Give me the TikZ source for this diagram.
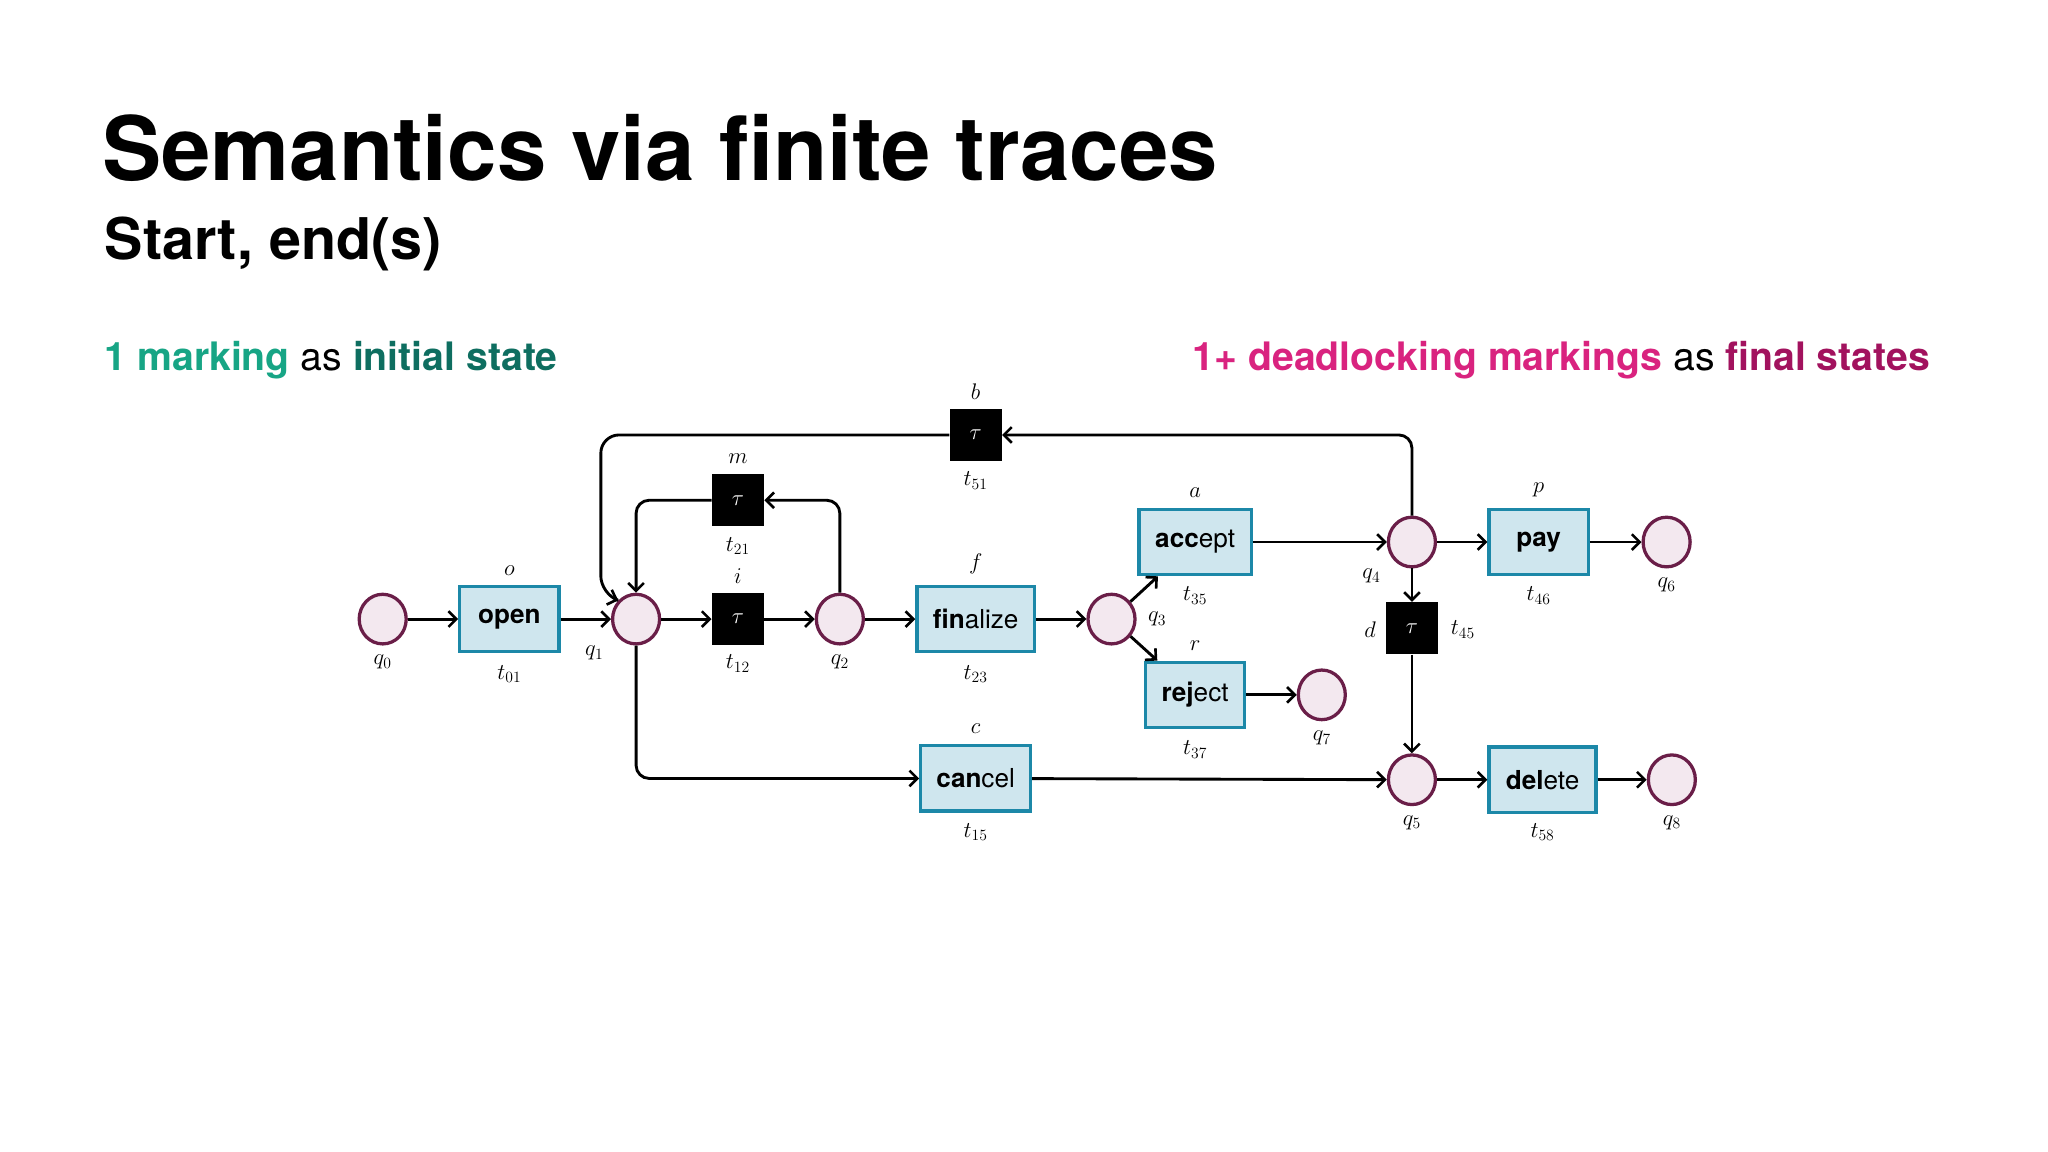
\documentclass[tikz,border=0pt]{standalone}
\usepackage{fontspec}
\setsansfont{TeX Gyre Heros}
\usetikzlibrary{arrows.meta,shapes.geometric}
\definecolor{boxfill}{HTML}{CFE6EE}
\definecolor{boxline}{HTML}{1C88A8}
\definecolor{plfill}{HTML}{F3E8EF}
\definecolor{plline}{HTML}{6A1E48}
\definecolor{tealA}{HTML}{17A585}
\definecolor{tealB}{HTML}{0E6E60}
\definecolor{magA}{HTML}{D9237F}
\definecolor{magB}{HTML}{A2125E}
\tikzset{
 x=1pt,y=-1pt,
 place/.style={ellipse,draw=plline,fill=plfill,line width=2.5pt,minimum width=36pt,minimum height=38pt,inner sep=0pt},
 trans/.style={draw=boxline,fill=boxfill,line width=2.5pt,minimum height=50pt,inner sep=0pt,font=\sffamily\fontsize{20}{22}\selectfont},
 tau/.style={fill=black,text=white,minimum size=40pt,inner sep=0pt,font=\fontsize{18}{20}\selectfont},
 lab/.style={font=\fontsize{18}{20}\selectfont,inner sep=2pt},
 arc/.style={line width=2.2pt,-{Straight Barb[length=6pt,width=12pt,line width=2pt]},rounded corners=10pt},
}
\begin{document}
\begin{tikzpicture}
\useasboundingbox (0,0) rectangle (1568,882);
\fill[white] (0,0) rectangle (1568,882);
\node[anchor=base west,inner sep=0,font=\sffamily\bfseries\fontsize{68}{70}\selectfont] (title) at (78,138) {Semantics via finite traces};
\node[anchor=base west,inner sep=0,font=\sffamily\bfseries\fontsize{44}{46}\selectfont] (sub) at (80,199) {Start, end(s)};
\node[anchor=base west,inner sep=0,font=\sffamily\fontsize{30}{32}\selectfont] (lt) at (80,284) {\textcolor{tealA}{\bfseries 1 marking} as \textcolor{tealB}{\bfseries initial state}};
\node[anchor=base east,inner sep=0,font=\sffamily\fontsize{30}{32}\selectfont] (rt) at (1478,284) {\textcolor{magA}{\bfseries 1+ deadlocking markings} as \textcolor{magB}{\bfseries final states}};

\node[place] (q0) at (293,474) {};
\node[trans,minimum width=76pt] (t01) at (390,474) {\bfseries open};
\node[place] (q1) at (487,474) {};
\node[tau] (t12) at (565,474) {$\tau$};
\node[place] (q2) at (643,474) {};
\node[tau] (t21) at (565,383) {$\tau$};
\node[trans,minimum width=90pt] (t23) at (747,474) {\textbf{fin}alize};
\node[tau] (t51) at (747,333) {$\tau$};
\node[trans,minimum width=84pt] (t15) at (747,596) {\textbf{can}cel};
\node[place] (q3) at (851,474) {};
\node[trans,minimum width=86pt] (t35) at (915,415) {\textbf{acc}ept};
\node[trans,minimum width=76pt] (t37) at (915,532) {\textbf{rej}ect};
\node[place] (q7) at (1012,532) {};
\node[place] (q4) at (1081,415) {};
\node[tau] (t45) at (1081,481) {$\tau$};
\node[place] (q5) at (1081,597) {};
\node[trans,minimum width=76pt] (t46) at (1178,415) {\bfseries pay};
\node[place] (q6) at (1276,415) {};
\node[trans,minimum width=82pt] (t58) at (1181,597) {\textbf{del}ete};
\node[place] (q8) at (1280,597) {};

% labels
\node[lab] at (293,507) {$q_0$};
\node[lab] at (390,437) {$o$};
\node[lab] at (390,516) {$t_{01}$};
\node[lab] at (455,500) {$q_1$};
\node[lab] at (565,441) {$i$};
\node[lab] at (565,508) {$t_{12}$};
\node[lab] at (643,507) {$q_2$};
\node[lab] at (565,351) {$m$};
\node[lab] at (565,418) {$t_{21}$};
\node[lab] at (747,432) {$f$};
\node[lab] at (747,516) {$t_{23}$};
\node[lab] at (747,300) {$b$};
\node[lab] at (747,368) {$t_{51}$};
\node[lab] at (747,558) {$c$};
\node[lab] at (747,637) {$t_{15}$};
\node[lab] at (886,474) {$q_3$};
\node[lab] at (915,377) {$a$};
\node[lab] at (915,456) {$t_{35}$};
\node[lab] at (915,494) {$r$};
\node[lab] at (915,574) {$t_{37}$};
\node[lab] at (1012,565) {$q_7$};
\node[lab] at (1050,441) {$q_4$};
\node[lab] at (1049,482) {$d$};
\node[lab] at (1120,482) {$t_{45}$};
\node[lab] at (1081,630) {$q_5$};
\node[lab] at (1178,375) {$p$};
\node[lab] at (1178,456) {$t_{46}$};
\node[lab] at (1276,448) {$q_6$};
\node[lab] at (1181,637) {$t_{58}$};
\node[lab] at (1280,630) {$q_8$};

% arcs
\draw[arc] (q0) -- (t01);
\draw[arc] (t01) -- (q1);
\draw[arc] (q1) -- (t12);
\draw[arc] (t12) -- (q2);
\draw[arc] (q2) -- (t23);
\draw[arc] (t23) -- (q3);
\draw[arc] (q3) -- (t35);
\draw[arc] (q3) -- (t37);
\draw[arc] (t35) -- (q4);
\draw[arc] (t37) -- (q7);
\draw[arc] (q4) -- (t46);
\draw[arc] (t46) -- (q6);
\draw[arc] (q4) -- (t45);
\draw[arc] (t45) -- (q5);
\draw[arc] (q5) -- (t58);
\draw[arc] (t58) -- (q8);
\draw[arc] (t15) -- (q5);
\draw[arc] (q2.north) |- (t21.east);
\draw[arc] (t21.west) -| (q1.north);
\draw[arc] (q1.south) |- (t15.west);
\draw[arc] (q4.north) |- (t51.east);
\draw[arc,rounded corners=14pt] (t51.west) -| (460,455) -- (q1.north west);
\end{tikzpicture}
\end{document}
